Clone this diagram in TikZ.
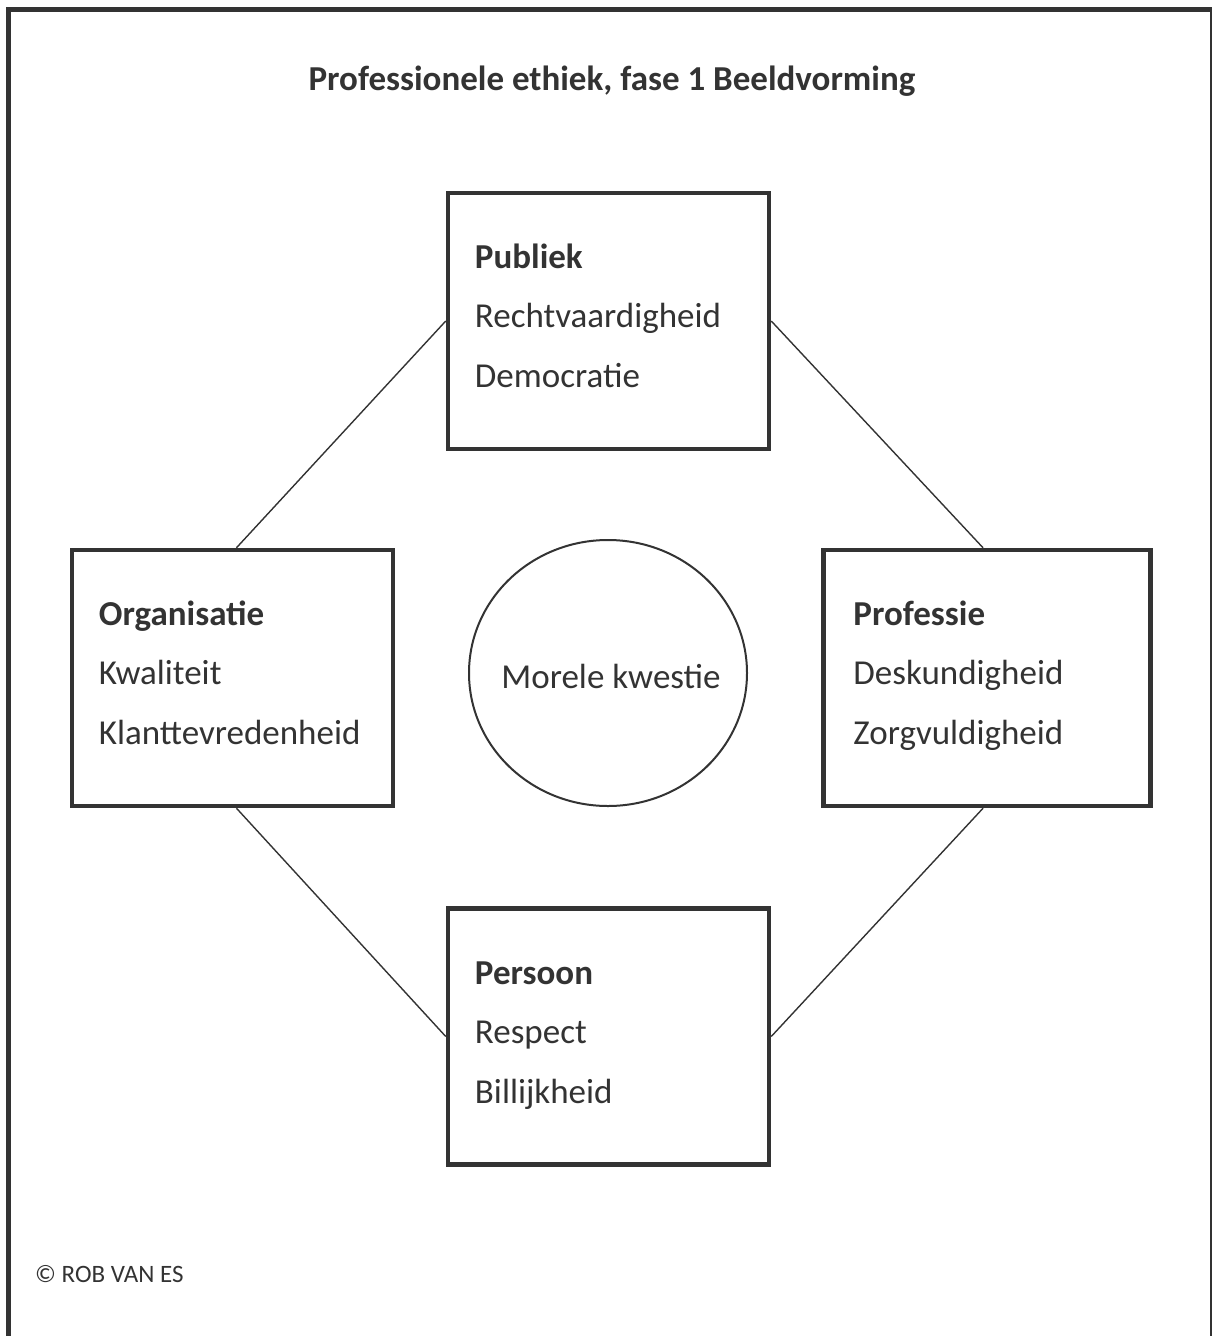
\documentclass[tikz,border=0pt]{standalone}
\usepackage{fontspec}
\setmainfont{Carlito}
\usetikzlibrary{calc,shapes.geometric}
\definecolor{ink}{HTML}{333333}
\tikzset{
  box/.style={draw=ink, line width=4.5pt, rectangle, minimum width=321pt, minimum height=256pt, inner sep=0pt},
  boxwide/.style={box, minimum width=327pt},
  lbl/.style={anchor=base west, inner sep=0pt, text=ink, font=\fontsize{35}{40}\selectfont},
  lblb/.style={lbl, font=\fontsize{35}{40}\selectfont\bfseries},
  link/.style={draw=ink, line width=1.4pt},
}
\begin{document}
\begin{tikzpicture}[x=1pt,y=-1pt]
\useasboundingbox (0,0) rectangle (1213,1336);
% frame
\draw[ink, line width=5pt] (8.5,1340) -- (8.5,9.5) -- (1212,9.5);
\draw[ink, line width=2pt] (1211,9.5) -- (1211,1340);
% title
\node[anchor=base, inner sep=0pt, text=ink, font=\fontsize{35}{40}\selectfont\bfseries] (title) at (612,90) {Professionele ethiek, fase 1 Beeldvorming};
% boxes
\node[box] (pub) at (608.5,321) {};
\node[box] (org) at (232.5,678) {};
\node[boxwide] (prof) at (987,678) {};
\node[box] (pers) at (608.5,1036.5) {};
% circle
\node[draw=ink, line width=2pt, ellipse, minimum width=278pt, minimum height=266pt, inner sep=0pt] (kw) at (608,673) {};
\node[lbl, anchor=base] (kwt) at (611,688) {Morele kwestie};
% texts
\node[lblb] (pub1) at ($(pub.north west)+(29,78)$) {Publiek};
\node[lbl] (pub2) at ($(pub.north west)+(29,137)$) {Rechtvaardigheid};
\node[lbl] (pub3) at ($(pub.north west)+(29,197)$) {Democratie};
\node[lblb] (org1) at ($(org.north west)+(29,78)$) {Organisatie};
\node[lbl] (org2) at ($(org.north west)+(29,137)$) {Kwaliteit};
\node[lbl] (org3) at ($(org.north west)+(29,197)$) {Klanttevredenheid};
\node[lblb] (prof1) at ($(prof.north west)+(32,78)$) {Professie};
\node[lbl] (prof2) at ($(prof.north west)+(32,137)$) {Deskundigheid};
\node[lbl] (prof3) at ($(prof.north west)+(32,197)$) {Zorgvuldigheid};
\node[lblb] (pers1) at ($(pers.north west)+(29,78)$) {Persoon};
\node[lbl] (pers2) at ($(pers.north west)+(29,137)$) {Respect};
\node[lbl] (pers3) at ($(pers.north west)+(29,197)$) {Billijkheid};
% connectors
\draw[link] (pub.west) -- ($(org.north)+(4,0)$);
\draw[link] (pub.east) -- ($(prof.north)+(-4,0)$);
\draw[link] ($(org.south)+(4,0)$) -- (pers.west);
\draw[link] ($(prof.south)+(-4,0)$) -- (pers.east);
% copyright
\node[anchor=base west, inner sep=0pt, text=ink, font=\fontsize{25}{28}\selectfont] (copy) at (35,1282) {© ROB VAN ES};
\end{tikzpicture}
\end{document}
